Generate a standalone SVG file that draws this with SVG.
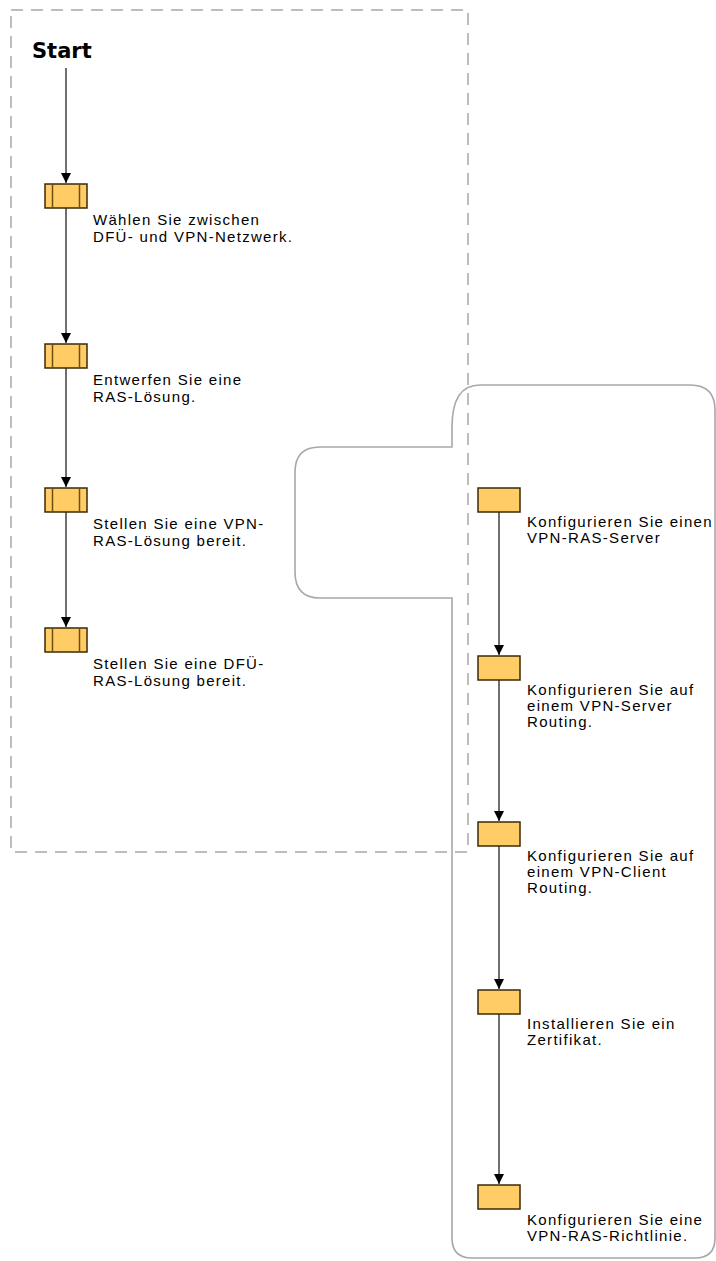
<svg xmlns="http://www.w3.org/2000/svg" width="716" height="1261" viewBox="0 0 716 1261">
<style>
.t{font-family:"Liberation Sans",Arial,sans-serif;font-size:15px;letter-spacing:1.3px;fill:#000}
.st{font-family:"DejaVu Sans",sans-serif;font-size:21px;font-weight:bold;fill:#000}
.box{fill:#FFCC66;stroke:#3a2a08;stroke-width:1.5}
.stripe{stroke:#6b5012;stroke-width:1.5}
.ln{stroke:#222;stroke-width:1.3;fill:none}
</style>
<defs>
<marker id="ah" markerWidth="10" markerHeight="10" refX="8" refY="4" orient="auto" markerUnits="userSpaceOnUse" viewBox="0 0 8 8">
<path d="M0,0 L8,4 L0,8 Z" fill="#000"/>
</marker>
</defs>
<rect x="11" y="10" width="457" height="842" fill="none" stroke="#BDBDBD" stroke-width="2" stroke-dasharray="12,8"/>
<path d="M452,598 L452,1238 Q452,1258 472,1258 L695,1258 Q715,1258 715,1238 L715,410 Q715,385 690,385 L480,385 Q452,385 452,427 L452,447 L320,447 Q295,447 295,472 L295,572 Q295,598 320,598 Z" fill="none" stroke="#A8A8A8" stroke-width="1.6"/>
<g id="connectors">
<line class="ln" x1="66" y1="68" x2="66" y2="183" marker-end="url(#ah)"/>
<line class="ln" x1="66" y1="208" x2="66" y2="343" marker-end="url(#ah)"/>
<line class="ln" x1="66" y1="368" x2="66" y2="487" marker-end="url(#ah)"/>
<line class="ln" x1="66" y1="512" x2="66" y2="627" marker-end="url(#ah)"/>
<line class="ln" x1="499" y1="512" x2="499" y2="655" marker-end="url(#ah)"/>
<line class="ln" x1="499" y1="680" x2="499" y2="821" marker-end="url(#ah)"/>
<line class="ln" x1="499" y1="846" x2="499" y2="989" marker-end="url(#ah)"/>
<line class="ln" x1="499" y1="1014" x2="499" y2="1184" marker-end="url(#ah)"/>
</g>
<g id="start"><text class="st" x="32" y="58">Start</text></g>
<g id="n1">
<rect class="box" x="45" y="184" width="42" height="24"/>
<line class="stripe" x1="52.5" y1="184" x2="52.5" y2="208"/><line class="stripe" x1="79.5" y1="184" x2="79.5" y2="208"/>
<text class="t" x="93" y="225">Wählen Sie zwischen</text><text class="t" x="93" y="242">DFÜ- und VPN-Netzwerk.</text>
</g>
<g id="n2">
<rect class="box" x="45" y="344" width="42" height="24"/>
<line class="stripe" x1="52.5" y1="344" x2="52.5" y2="368"/><line class="stripe" x1="79.5" y1="344" x2="79.5" y2="368"/>
<text class="t" x="93" y="385">Entwerfen Sie eine</text><text class="t" x="93" y="402">RAS-Lösung.</text>
</g>
<g id="n3">
<rect class="box" x="45" y="488" width="42" height="24"/>
<line class="stripe" x1="52.5" y1="488" x2="52.5" y2="512"/><line class="stripe" x1="79.5" y1="488" x2="79.5" y2="512"/>
<text class="t" x="93" y="529">Stellen Sie eine VPN-</text><text class="t" x="93" y="546">RAS-Lösung bereit.</text>
</g>
<g id="n4">
<rect class="box" x="45" y="628" width="42" height="24"/>
<line class="stripe" x1="52.5" y1="628" x2="52.5" y2="652"/><line class="stripe" x1="79.5" y1="628" x2="79.5" y2="652"/>
<text class="t" x="93" y="669">Stellen Sie eine DFÜ-</text><text class="t" x="93" y="686">RAS-Lösung bereit.</text>
</g>
<g id="r1">
<rect class="box" x="478" y="488" width="42" height="24"/>
<text class="t" x="527" y="527">Konfigurieren Sie einen</text><text class="t" x="527" y="543">VPN-RAS-Server</text>
</g>
<g id="r2">
<rect class="box" x="478" y="656" width="42" height="24"/>
<text class="t" x="527" y="695">Konfigurieren Sie auf</text><text class="t" x="527" y="711">einem VPN-Server</text><text class="t" x="527" y="727">Routing.</text>
</g>
<g id="r3">
<rect class="box" x="478" y="822" width="42" height="24"/>
<text class="t" x="527" y="861">Konfigurieren Sie auf</text><text class="t" x="527" y="877">einem VPN-Client</text><text class="t" x="527" y="893">Routing.</text>
</g>
<g id="r4">
<rect class="box" x="478" y="990" width="42" height="24"/>
<text class="t" x="527" y="1029">Installieren Sie ein</text><text class="t" x="527" y="1045">Zertifikat.</text>
</g>
<g id="r5">
<rect class="box" x="478" y="1185" width="42" height="24"/>
<text class="t" x="527" y="1225">Konfigurieren Sie eine</text><text class="t" x="527" y="1241">VPN-RAS-Richtlinie.</text>
</g>
</svg>
